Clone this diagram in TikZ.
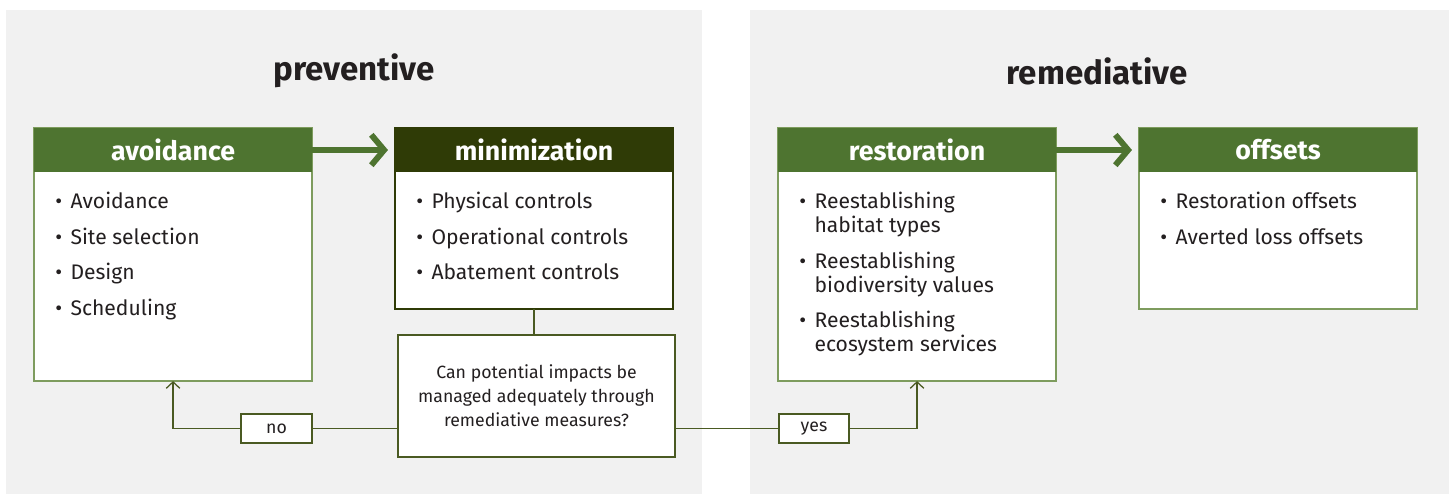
\documentclass[tikz,border=0pt]{standalone}
\usepackage{fontspec}
\setmainfont{Fira Sans}
\usetikzlibrary{arrows.meta,positioning}
\definecolor{leafgreen}{HTML}{4E7430}
\definecolor{darkleaf}{HTML}{2F3B06}
\definecolor{rimgreen}{HTML}{7E9C5E}
\definecolor{olive}{HTML}{4A5A22}
\definecolor{panelgray}{HTML}{F1F1F1}
\definecolor{ink}{HTML}{231F20}
\tikzset{bodybox/.style={draw=rimgreen, fill=white, line width=0.9pt, anchor=north west, inner sep=0pt, outer sep=0pt, minimum width=6.95cm}}
\tikzset{headbox/.style={fill=leafgreen, text=white, anchor=north west, inner sep=0pt, outer sep=0pt, minimum width=6.95cm, minimum height=1.1cm, font=\fontsize{19}{22}\selectfont\bfseries}}
\tikzset{listtext/.style={anchor=north west, align=left, inner sep=0pt, text=ink, font=\fontsize{15}{25.3}\selectfont}}
\tikzset{askbox/.style={draw=olive, fill=white, line width=0.9pt, inner sep=0pt, outer sep=0pt, align=center, text=ink, font=\fontsize{12.6}{17}\selectfont}}
\tikzset{link/.style={draw=olive, line width=0.9pt}}
\tikzset{bigarrow/.style={draw=leafgreen, line width=4.2pt, -{Straight Barb[length=3.2mm, width=7.6mm]}}}
\newcommand{\bt}{\textbullet\hspace{6pt}}
\newcommand{\nb}{\phantom{\textbullet}\hspace{6pt}}

\begin{document}
\begin{tikzpicture}[x=0.025cm, y=-0.025cm]
\useasboundingbox (0,0) rectangle (1449,495);
\fill[panelgray] (6,10) rectangle (702,494);
\fill[panelgray] (750,10) rectangle (1449,494);

\node[text=ink, font=\fontsize{23.5}{26}\selectfont\bfseries] (prevtitle) at (354,71) {preventive};
\node[text=ink, font=\fontsize{23.5}{26}\selectfont\bfseries] (remtitle) at (1097,71) {remediative};

% preventive side
\node[bodybox, minimum height=6.325cm] (avoid) at (34,128) {};
\node[headbox] (avoidhead) at (34,128) {avoidance};
\node[listtext] (avoidlist) at (55,192) {\bt Avoidance\\ \bt Site selection\\ \bt Design\\ \bt Scheduling};

\node[bodybox, draw=darkleaf, minimum height=4.525cm] (mini) at (395,128) {};
\node[headbox, fill=darkleaf] (minihead) at (395,128) {minimization};
\node[listtext] (minilist) at (416,192) {\bt Physical controls\\ \bt Operational controls\\ \bt Abatement controls};

% remediative side
\node[bodybox, minimum height=6.325cm] (resto) at (778,128) {};
\node[headbox] (restohead) at (778,128) {restoration};
\node[listtext, font=\fontsize{15}{17}\selectfont] (restolist) at (799,192)
  {\bt Reestablishing\\ \nb habitat types\\[8.3pt] \bt Reestablishing\\ \nb biodiversity values\\[8.3pt] \bt Reestablishing\\ \nb ecosystem services};

\node[bodybox, minimum height=4.525cm] (offs) at (1139,128) {};
\node[headbox] (offshead) at (1139,128) {offsets};
\node[listtext] (offslist) at (1160,192) {\bt Restoration offsets\\ \bt Averted loss offsets};

\draw[bigarrow, shorten >=5pt] (avoidhead.east) -- (minihead.west);
\draw[bigarrow, shorten >=5pt] (restohead.east) -- (offshead.west);

% decision
\node[askbox, minimum width=6.925cm, minimum height=3.05cm] (ask) at (536.5,396)
  {Can potential impacts be\\ managed adequately through\\ remediative measures?};
\node[askbox, minimum width=1.775cm, minimum height=0.725cm, font=\fontsize{12.6}{15}\selectfont] (nobox) at (276.5,428.5) {no};
\node[askbox, minimum width=1.75cm, minimum height=0.725cm, font=\fontsize{12.6}{15}\selectfont] (yesbox) at (814,428.5) {yes};

\draw[link] (mini.south) -- (mini.south |- ask.north);
\draw[link] (ask.west |- nobox.east) -- (nobox.east);
\draw[link, -{Straight Barb[length=1.6mm, width=3.4mm]}] (nobox.west) -| (avoid.south);
\draw[link] (ask.east |- yesbox.west) -- (yesbox.west);
\draw[link, -{Straight Barb[length=1.6mm, width=3.4mm]}] (yesbox.east) -| (resto.south);
\end{tikzpicture}
\end{document}
